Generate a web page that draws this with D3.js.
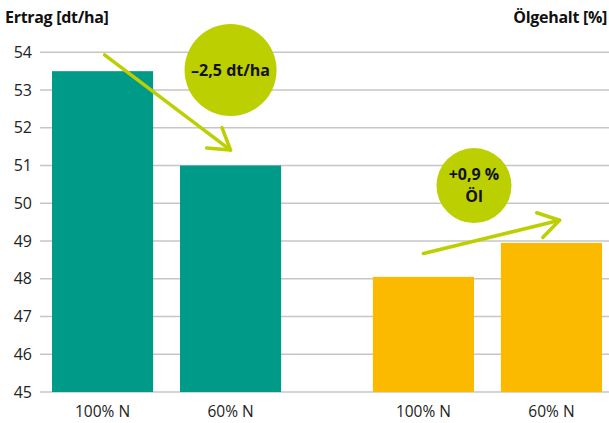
<!DOCTYPE html>
<html>
<head>
<meta charset="utf-8">
<script src="https://cdn.jsdelivr.net/npm/d3@7"></script>
<style>
  body { margin: 0; background: #fff; }
  svg text { font-family: "Open Sans", sans-serif; }
</style>
</head>
<body>
<div id="chart"></div>
<script>
// Data
const groups = ['Ertrag', 'Oel'];
const levels = ['100% N', '60% N'];
const ertragValues = [53.5, 51.0];
const oelValues = [48.05, 48.95];
const yTicks = [45, 46, 47, 48, 49, 50, 51, 52, 53, 54];
const groupColors = ['#009a88', '#fbba00'];

// annotations: circle badges and arrows in data units
const badges = [
  { group: 'Ertrag', level: '60% N', anchor: 0.5, value: 53.53, r: 46, lines: ['\u20132,5 dt/ha'] },
  { group: 'Oel', level: '100% N', anchor: 1.0, value: 50.47, r: 37.5, lines: ['+0,9 %', '\u00d6l'] }
];
const arrows = [
  { from: ['Ertrag', '100% N', 0.52, 53.93], to: ['Ertrag', '60% N', 0.5, 51.41] },
  { from: ['Oel', '100% N', 0.5, 48.67], to: ['Oel', '60% N', 0.58, 49.55] }
];

const width = 609, height = 423;
const margin = { top: 52, right: 0, bottom: 31, left: 40 };

const svg = d3.select('#chart')
  .append('svg')
  .attr('width', width)
  .attr('height', height);

// Scales
const x0 = d3.scaleBand()
  .domain(groups)
  .range([52, 602])
  .paddingInner(0.286)
  .paddingOuter(0);

const x1 = d3.scaleBand()
  .domain(levels)
  .range([0, x0.bandwidth()])
  .paddingInner(0.21)
  .paddingOuter(0);

const y = d3.scaleLinear()
  .domain([45, 54])
  .range([392, 52.3]);

const xPos = (g, l, f) => x0(g) + x1(l) + x1.bandwidth() * f;

// Grid lines
svg.append('g')
  .selectAll('line')
  .data(yTicks)
  .enter()
  .append('line')
  .attr('x1', margin.left)
  .attr('x2', width)
  .attr('y1', d => y(d))
  .attr('y2', d => y(d))
  .attr('stroke', '#c6c6c6')
  .attr('stroke-width', 1.6);

// Y Axis labels
const yAxis = d3.axisLeft(y).tickValues(yTicks).tickSize(0).tickPadding(8);
svg.append('g')
  .attr('transform', `translate(${margin.left},0)`)
  .call(yAxis)
  .call(g => g.select('.domain').remove())
  .call(g => g.selectAll('text')
    .attr('fill', '#222')
    .style('font-size', '16px')
    .style('font-family', '"Open Sans", sans-serif'));

// Bars
const barData = [];
groups.forEach((g, gi) => {
  const vals = gi === 0 ? ertragValues : oelValues;
  levels.forEach((l, li) => barData.push({ group: g, level: l, value: vals[li], color: groupColors[gi] }));
});

svg.append('g')
  .selectAll('rect')
  .data(barData)
  .enter()
  .append('rect')
  .attr('x', d => x0(d.group) + x1(d.level))
  .attr('y', d => y(d.value))
  .attr('width', x1.bandwidth())
  .attr('height', d => y(45) - y(d.value))
  .attr('fill', d => d.color);

// X labels
svg.append('g')
  .selectAll('text')
  .data(barData)
  .enter()
  .append('text')
  .attr('x', d => xPos(d.group, d.level, 0.5))
  .attr('y', 417)
  .attr('text-anchor', 'middle')
  .attr('fill', '#222')
  .style('font-size', '15.5px')
  .text(d => d.level);

// Titles
svg.append('text')
  .attr('x', 5)
  .attr('y', 23)
  .attr('fill', '#111')
  .style('font-size', '16px')
  .style('font-weight', 'bold')
  .style('letter-spacing', '-0.3px')
  .text('Ertrag [dt/ha]');

svg.append('text')
  .attr('x', 607)
  .attr('y', 23)
  .attr('text-anchor', 'end')
  .attr('fill', '#111')
  .style('font-size', '16px')
  .style('font-weight', 'bold')
  .style('letter-spacing', '-0.3px')
  .text('\u00d6lgehalt [%]');

// Arrows
const lime = '#bccf00';
arrows.forEach(a => {
  const sx = xPos(a.from[0], a.from[1], a.from[2]), sy = y(a.from[3]);
  const tx = xPos(a.to[0], a.to[1], a.to[2]), ty = y(a.to[3]);
  const ang = Math.atan2(sy - ty, sx - tx);
  const len = 24, spread = 32 * Math.PI / 180;
  const g = svg.append('g')
    .attr('stroke', lime)
    .attr('stroke-width', 3.5)
    .attr('fill', 'none')
    .attr('stroke-linecap', 'round')
    .attr('stroke-linejoin', 'round');
  g.append('line').attr('x1', sx).attr('y1', sy).attr('x2', tx).attr('y2', ty);
  g.append('polyline').attr('points', [
    [tx + len * Math.cos(ang + spread), ty + len * Math.sin(ang + spread)],
    [tx, ty],
    [tx + len * Math.cos(ang - spread), ty + len * Math.sin(ang - spread)]
  ].map(p => p.join(',')).join(' '));
});

// Badges
badges.forEach(b => {
  const cx = xPos(b.group, b.level, b.anchor), cy = y(b.value);
  svg.append('circle')
    .attr('cx', cx)
    .attr('cy', cy)
    .attr('r', b.r)
    .attr('fill', lime);
  const lh = 22;
  b.lines.forEach((t, i) => {
    svg.append('text')
      .attr('x', cx)
      .attr('y', cy + (i - (b.lines.length - 1) / 2) * lh)
      .attr('dy', '0.35em')
      .attr('text-anchor', 'middle')
      .attr('fill', '#111')
      .style('font-size', '16px')
      .style('font-weight', 'bold')
      .text(t);
  });
});
</script>
</body>
</html>
